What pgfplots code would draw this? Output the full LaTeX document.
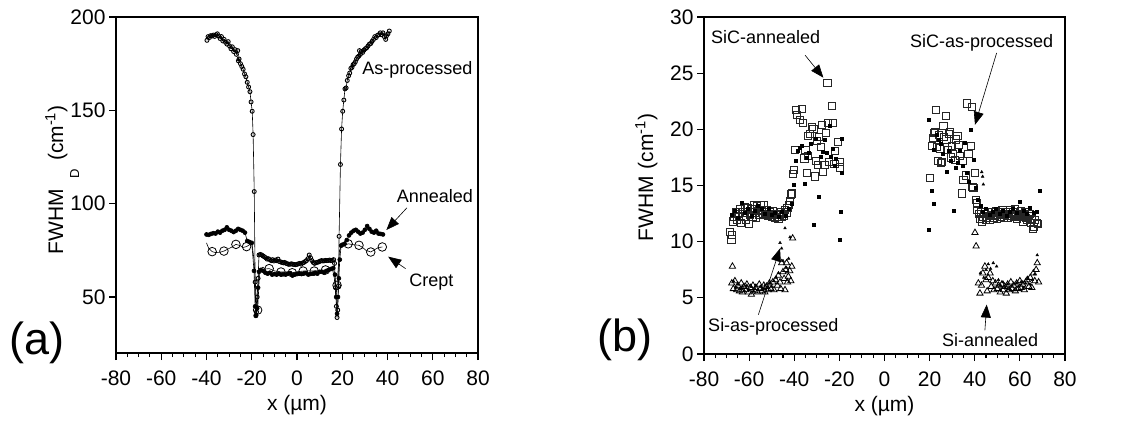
\documentclass[border=0pt]{standalone}
\usepackage{fontspec}
\setmainfont{Liberation Sans}
\usepackage{pgfplots}
\pgfplotsset{compat=1.18}
\usetikzlibrary{arrows.meta}

\pgfplotsset{
  panel/.style={
    scale only axis, anchor=south west,
    width=362pt, height=336pt,
    xmin=-80, xmax=80, xtick={-80,-60,...,80}, minor x tick num=3,
    tick align=outside, tick pos=left,
    major tick length=7pt, minor tick length=4pt,
    every tick/.style={black, line width=1.1pt},
    axis line style={line width=1.1pt},
    ticklabel style={font=\fontsize{21}{25}\selectfont},
    xticklabel style={yshift=-7pt},
    label style={font=\fontsize{21}{25}\selectfont},
    /pgf/number format/assume math mode=true,
    xlabel={x (µm)},
    xlabel style={at={([yshift=-52pt]rel axis cs:0.5,0)}, anchor=center},
    clip=false,
  },
}
\tikzset{
  note/.style={font=\fontsize{18}{22}\selectfont},
  arr/.style={-{Triangle[length=13pt,width=10pt]}, line width=0.6pt},
}

\begin{document}
\begin{tikzpicture}[x=1pt,y=1pt]
\path[use as bounding box] (0,0) rectangle (1122,421);

% ---------- (a) ----------
\begin{axis}[panel, at={(116pt,68pt)},
  ymin=20, ymax=200, ytick={50,100,150,200},
  ylabel={FWHM\hspace{11pt}\raisebox{-16pt}[0pt][0pt]{\fontsize{13}{13}\selectfont D}\hspace{8pt}(cm\textsuperscript{-1})},
  ylabel style={at={([xshift=-53pt,yshift=5pt]rel axis cs:0,0.5)}, anchor=base}]
% as-processed
\addplot[black, line width=0.6pt, mark=o, mark size=2pt, mark options={line width=0.9pt, fill=white}] coordinates {
(-39.8,187.5)(-39.3,189.5)(-38.7,189)(-38.2,190)(-37.6,189.8)(-37,190.3)(-36.4,189.6)(-35.8,190.5)(-35.2,191)(-34.6,189.8)
(-34,188.5)(-33.4,189.5)(-32.8,187.2)(-32.2,188)(-31.6,186.5)(-31,185.5)(-30.4,186.8)(-29.8,184.5)(-29.2,183)(-28.6,184)
(-28,181.5)(-27.4,182.5)(-26.8,180)(-26.2,182)(-25.9,176.5)(-25.6,177.5)(-25,175)(-24.4,173.5)(-23.8,172)(-23.2,169.5)
(-22.6,168)(-22,165)(-21.4,162.5)(-20.8,160)(-20.3,154.5)(-19.8,149.5)(-19.4,137)(-18.9,106.5)(-18.5,58)(-18.2,40)
(-17.9,42)(-17.6,50)(-17.2,60)(-16.8,72.5)(-16.2,72.8)(-15.6,72.5)(-15,72)(-14.4,71.5)(-13.8,71)(-13.2,70.3)
(-12.6,70.5)(-12,70)(-11.4,69.5)(-10.8,70)(-10.2,69.3)(-9.6,69.8)(-9,69.5)(-8.4,70.3)(-7.8,69)(-7.2,68.8)
(-6.6,68.5)(-6,68.3)(-5.4,68.5)(-4.8,68)(-4.2,67.8)(-3.6,67.5)(-3,67.6)(-2.4,67.8)(-1.8,67.5)(-1.2,67.4)
(-0.6,67.3)(0,67.5)(0.6,67.8)(1.2,68)(1.8,67.6)(2.4,68.2)(3,68.5)(3.6,69)(4.2,69.5)(4.8,70.5)
(5.4,72.5)(6,71)(6.6,69.5)(7.2,68.5)(7.8,68)(8.4,68.4)(9,68.6)(9.6,68.8)(10.2,69.2)(10.8,69.5)
(11.4,69.3)(12,69.4)(12.6,69.6)(13.2,69.5)(13.8,69.6)(14.4,69.8)(15,69.5)(15.6,69.7)(16.2,70)(16.6,68)
(17,55)(17.4,45)(17.7,39)(18,43)(18.3,56)(18.6,82.5)(19.2,121)(19.7,140)(20.2,149.5)(20.7,155.5)
(21.2,161.5)(21.7,162)(22.2,166)(22.8,168.5)(23.3,170)(23.8,172.5)(24.3,173)(24.8,174.5)(25.3,175)(25.8,176)
(26.3,177.5)(26.8,178.5)(27.3,179)(27.6,182)(28,180)(28.5,181.5)(29,181)(29.6,182.3)(30.2,183)(30.8,183.5)
(31.4,184.5)(32,185.5)(32.6,185.8)(33.2,187)(33.8,188)(34.4,189.5)(35,189)(35.6,190.2)(36.2,190.5)(36.8,191.5)
(37.4,190.5)(38,191.5)(38.6,189.5)(39.2,188)(39.6,190)(40.2,191)(40.8,192.5)};
% annealed
\addplot[black, line width=0.6pt, mark=*, mark size=2pt] coordinates {
(-40,83.5)(-39,83.3)(-38,83.8)(-37,84.2)(-36,84)(-35,85)(-34,84.5)(-33,85.5)(-32,86)(-31,87.3)
(-30,86)(-29,85.5)(-28,84.8)(-27,85.5)(-26,86.5)(-25,86)(-24,85.5)(-23,84.5)(-22,80)(-21,79.5)
(-20,79)(-19,64)(-18.5,45)(-18.1,40)(-17.6,44)(-17.2,55)(-16.8,63.5)(-16,64.5)(-15,64)(-14,63)
(-13,62.5)(-12,63)(-11,62)(-10,62.3)(-9,62)(-8,62.5)(-7,62)(-6,62.2)(-5,62)(-4,62.5)
(-3,62.8)(-2,61.5)(-1,62)(0,62.3)(1,62.5)(2,62.3)(3,62.6)(4,62.8)(5,62)(6,62.4)
(7,62.5)(8,63)(9,62.5)(10,63.5)(11,63.5)(12,63)(13,64)(14,64.5)(15,65)(16,65.5)
(16.8,62)(17.3,50)(17.7,41)(18.1,50)(18.5,60)(18.9,70)(19.5,77.5)(20,78)(21,78.5)(22,80.5)
(23,83)(24,84.5)(25,85.5)(26,86)(27,85)(28,84)(29,84.5)(30,86)(31,88)(32,86.5)
(33,85)(34,84.5)(35,85.5)(36,84)(37,83.8)(38,83.5)};
% crept: line
\addplot[black, line width=0.6pt] coordinates {
(-40,79)(-39,76)(-37.5,74.3)(-36,73.8)(-34,74)(-32.3,74.6)(-30,76)(-28.5,77)(-27,78.2)(-25,77.5)
(-24,76.5)(-22.3,77)(-21,78)(-20,79.5)(-19,70)(-18.3,55)(-17.8,45)(-17.4,43)(-16.9,55)(-16.5,65)
(-15,66)(-14,65)(-12.3,65.2)(-10,64)(-7.1,63.4)(-5,63.5)(-2.1,63)(0,63.5)(2.7,63.9)(5,64)
(7.6,63.9)(10,64.2)(12.6,64.5)(14,65)(15.5,66)(16.5,60)(17.2,50)(17.7,56.3)(18.2,65)(18.8,75)
(19.5,77)(21,77.5)(22.6,78.5)(25,78)(27.4,77.7)(29,76.5)(30.5,75)(32.6,74.1)(34.5,75.5)(36,76.5)(37.7,76.8)};
% crept: marks
\addplot[only marks, black, mark=o, mark size=4.3pt, mark options={fill=white, line width=0.8pt}] coordinates {
(-37.5,74.3)(-32.3,74.6)(-27,78.2)(-22.3,77)(-17.4,43)(-12.3,65.2)(-7.1,63.4)(-2.1,63)
(2.7,63.9)(7.6,63.9)(12.6,64.5)(17.7,56.3)(22.6,78.5)(27.4,77.7)(32.6,74.1)(37.7,76.8)};
\node[note] at (axis cs:53.2,171.5) {As-processed};
\node[note] at (axis cs:60.9,104) {Annealed};
\node[note] at (axis cs:59.4,58) {Crept};
\draw[arr] (axis cs:48.6,97.8) -- (axis cs:39.5,85.9);
\draw[arr] (axis cs:48,65.2) -- (axis cs:40.3,71.6);
\end{axis}
\node[font=\fontsize{45}{50}\selectfont] at (37,78) {(a)};

% ---------- (b) ----------
\begin{axis}[panel, at={(704pt,67pt)}, width=361pt, height=337pt,
  ymin=0, ymax=30, ytick={0,5,...,30},
  ylabel={FWHM\hspace{7pt}(cm\textsuperscript{-1})},
  ylabel style={at={([xshift=-51pt,yshift=8pt]rel axis cs:0,0.5)}, anchor=base}]
% SiC annealed
\addplot[only marks, black!85, mark=square, mark size=3.6pt, mark options={line width=0.9pt}] coordinates {
(-68.5,10.9)(-67.8,10.2)(-67.5,10.6)(-67,11.8)(-66.5,12.2)(-66,12.6)(-65.5,11.9)(-65,12.5)(-64.5,12.3)(-64,12.9)
(-63.5,11.7)(-63,12.6)(-62.5,12.2)(-62,13.1)(-61.5,11.9)(-61,12.6)(-60.5,13)(-60,11.6)(-59.5,12.4)(-59,12.9)
(-58.5,12.2)(-58,13.3)(-57.5,12.6)(-57,12.1)(-56.5,13.2)(-56,12.7)(-55.5,12.4)(-55,13.3)(-54.5,12.8)(-54,12.5)
(-53.5,13.3)(-53,12.6)(-52.5,12.4)(-52,12.8)(-51.5,12.3)(-51,12.6)(-50.5,12.5)(-50,12.2)(-49.5,12.7)(-49,12.4)
(-48.5,12.1)(-48,12.5)(-47.5,12.2)(-47,12)(-46.5,12.4)(-46,12.6)(-45.5,12.2)(-45,12.5)(-44.5,12.3)(-44,12.8)
(-43.5,12.6)(-43,13)(-42.5,13.3)(-42,13.6)(-41.5,14.2)(-41,14.3)(-40.5,16)(-40,16.4)(-39.8,18.2)(-39.3,21.7)
(-38.8,21.3)(-37.5,20.8)(-36.7,21.8)(-36.2,20.6)(-35.5,17.4)(-35,18.2)(-34.5,16.1)(-34,17.6)(-33.8,19.4)(-33,19.6)
(-32.3,20.2)(-31.5,20)(-31,15.8)(-30.5,17.2)(-30.1,19)(-29.5,16.8)(-29,19.3)(-28.3,18.4)(-27.9,20.4)(-27.3,16.2)
(-26.6,16.8)(-26.1,19.7)(-25.3,24.1)(-24.9,20.6)(-24.5,17.1)(-23.4,22.1)(-22.7,20.6)(-22.2,16.9)(-21.9,18.1)(-20.5,18.9)
(-19.7,17.1)(-19.9,16.6)
(20.2,15.7)(20.9,18.5)(21.3,19.2)(21.8,19.7)(22.4,19.8)(22.8,21.7)(23.2,18.4)(23.8,17.2)(24.3,19.5)(24.6,18.3)
(24.9,17)(25.5,17.1)(26.1,20.3)(26.5,19.3)(27.3,21.2)(27.5,19.1)(28,18.2)(28.5,19.6)(29,19.8)(29.5,17.5)
(29.8,18.5)(30.5,17.8)(31.2,17.3)(31.6,19.1)(32.3,19.4)(32.8,18.6)(33.5,17.6)(34.2,14.3)(34.6,17.2)(35,15.5)
(36.1,15.9)(36.7,22.3)(37.2,17.8)(38.2,18.5)(38.6,22)(39,14.9)(39.4,14.8)(40.1,16.1)(40.6,13.7)(41,13.4)
(41.2,12.8)(41.8,12.5)(42.3,12)(42.8,12.6)(43.3,11.8)(43.8,12.2)(44.3,12.5)(44.8,11.9)(45.3,12.1)(45.8,12.6)
(46.3,12.3)(46.8,11.9)(47.3,12.4)(47.8,12.6)(48.3,12.1)(48.8,12.3)(49.3,12.7)(49.8,12)(50.3,12.4)(50.8,12.6)
(51.3,12.2)(51.8,12.5)(52.3,12.8)(52.8,12.1)(53.3,12.4)(53.8,12.6)(54.3,12.3)(54.8,12.1)(55.3,12.5)(55.8,12.8)
(56.3,12.3)(56.8,12.6)(57.3,12.2)(57.8,12.9)(58.3,12.4)(58.8,12)(59.3,12.5)(59.8,12.3)(60.3,12.7)(60.8,12.2)
(61.3,11.8)(61.8,12.4)(62.3,12.6)(62.8,12.1)(63.3,11.9)(63.8,12.3)(64.3,12.5)(64.8,11.7)(65.3,12)(65.8,11.1)
(66.3,11.3)(66.8,11.9)(67.4,11.7)(68,11.6)};
% SiC as-processed
\addplot[only marks, black, mark=square*, mark size=1.5pt] coordinates {
(-67.7,12.4)(-66.5,12.8)(-65,12.1)(-63.3,13.5)(-62,12.6)(-60.5,12.9)(-59,12.3)(-57.5,12.8)(-56,13.2)(-54.5,12.9)
(-53,12.5)(-51.5,12.9)(-50,12.4)(-48.5,12.6)(-47,12.2)(-45.5,12.7)(-44,12.3)(-42.5,12.9)(-41,13.4)(-40.4,15.1)
(-39.5,17.2)(-38.5,18.1)(-37.5,18.4)(-36.7,18.5)(-35.2,15.2)(-34.5,17.5)(-33.8,17.9)(-32.5,18.7)(-31.5,11.5)(-30.5,19.2)
(-29.3,14)(-28.5,17.6)(-27.5,18)(-26.4,19.1)(-25.6,17.9)(-24.5,20.3)(-23.9,17.6)(-23,18.3)(-22.2,16.8)(-21.5,17.4)
(-20,10.2)(-19.3,12.7)(-19,16.1)(-18.8,19.2)
(19.4,20.9)(19.4,11.1)(20.9,14.5)(21.9,13.4)(22,18.2)(23,19.5)(24,19.1)(25,18.7)(26,17.8)(27.5,16.2)
(28.5,18.1)(29.5,17.2)(30.5,12.8)(31.5,16.6)(32.5,17)(33.5,18.1)(34.5,16.8)(35.7,18.8)(36.5,16.1)(37.5,15.3)
(38,20)(39.7,17.3)(40.6,14.8)(41.5,13.7)(42.5,13.2)(43.5,12.7)(45,12.9)(46.5,12.4)(48,12.7)(49.5,12.9)
(51,12.5)(52.5,12.8)(54,12.3)(55.5,12.7)(57,12.9)(58.5,12.6)(60,13.6)(61.5,12.8)(63,12.5)(64.5,13)
(66,12.6)(67.5,12.7)(68.9,14.5)};
% Si annealed
\addplot[only marks, black, mark=triangle, mark size=3.6pt, mark options={line width=0.8pt}] coordinates {
(-67.4,7.8)(-67.7,6.3)(-67,5.8)(-66.3,6.5)(-65.5,5.7)(-65,6.1)(-64.3,5.6)(-63.5,6.3)(-63,5.5)(-62.3,6)
(-61.5,5.7)(-61,6.2)(-60.3,5.5)(-59.5,5.9)(-59,5.3)(-58.3,6.1)(-57.5,5.6)(-57,5.9)(-56.3,5.5)(-55.5,6.2)
(-55,5.8)(-54.3,5.6)(-53.5,6.1)(-53,5.5)(-52.3,6)(-51.5,5.7)(-51,6.3)(-50.3,5.8)(-49.5,6.4)(-49,5.7)
(-48.3,6.6)(-47.5,6.1)(-47,7)(-46.3,6.4)(-46,5.8)(-45.6,8.1)(-45,7.3)(-44.5,6.7)(-44.1,5.7)(-43.8,7.5)
(-43.4,8.1)(-43,6.4)(-42.6,6.9)(-42,7.4)(-41.5,6.5)(-41.1,7.8)(-40.7,10.3)
(40.1,10.8)(40.6,9.6)(41.6,6.3)(42.3,5.4)(43,6.1)(43.6,7.2)(44.5,7.8)(45,6.6)(45.5,5.6)(46,6.8)
(46.8,7.2)(47.3,6)(48,6.5)(48.5,5.7)(49.2,6.3)(50,5.8)(50.6,6.1)(51.3,5.5)(52,6.2)(52.6,5.7)
(53.3,6)(54,5.4)(54.6,6.2)(55.3,5.7)(56,6.4)(56.6,5.8)(57.3,6.1)(58,5.6)(58.6,6.3)(59.3,5.8)
(60,6.5)(60.6,5.9)(61.3,6.2)(62,5.7)(62.6,6.4)(63.3,6.6)(64,6)(64.6,6.8)(65.3,5.9)(66,7.2)
(66.6,6.5)(67.2,7.5)(67.7,8.1)(68.3,6.4)};
% Si as-processed
\addplot[only marks, black, mark=triangle*, mark size=1.6pt] coordinates {
(-67,6.5)(-66,5.9)(-65,6.2)(-64,5.8)(-63,6)(-62,5.6)(-61,6.1)(-60,5.7)(-59,6)(-58,5.6)
(-57,6.1)(-56,5.7)(-55,6)(-54,5.8)(-53,6.1)(-52,5.9)(-51,6.3)(-50,6)(-49,6.5)(-48,6.8)
(-47,7.2)(-46.3,9.9)(-45.6,9.4)(-45,8.3)(-44.1,11.2)(-43.5,7.7)(-42.5,8.5)(-41.9,10.4)
(43.1,16.2)(43.5,15.8)(43.8,15.1)(42.5,7.2)(44,6.8)(45,7.5)(46,8)(47,7.6)(48.2,8.1)(49.7,7.8)
(50.5,6.6)(51.5,6.1)(52.5,6.4)(53.5,5.9)(54.5,6.2)(55.5,5.8)(56.5,6.1)(57.5,5.7)(58.5,6.3)(59.5,6)
(60.5,6.4)(61.5,5.9)(62.5,6.3)(63.5,6.8)(64.5,6.2)(65.5,6.6)(66.5,7.1)(67.7,8.8)};
\node[note] at (axis cs:-52.7,28.2) {SiC-annealed};
\node[note] at (axis cs:43.1,27.7) {SiC-as-processed};
\node[note] at (axis cs:-49.3,2.4) {Si-as-processed};
\node[note] at (axis cs:46.8,1.25) {Si-annealed};
\draw[arr] (axis cs:-35.2,26.6) -- (axis cs:-27.1,24.6);
\draw[arr] (axis cs:49.7,26.8) -- (axis cs:40.1,20.4);
\draw[arr] (axis cs:-55.9,3.5) -- (axis cs:-46.3,9.4);
\draw[arr] (axis cs:44.5,2.1) -- (axis cs:45.3,4.4);
\end{axis}
\node[font=\fontsize{45}{50}\selectfont] at (625,81) {(b)};
\end{tikzpicture}
\end{document}
